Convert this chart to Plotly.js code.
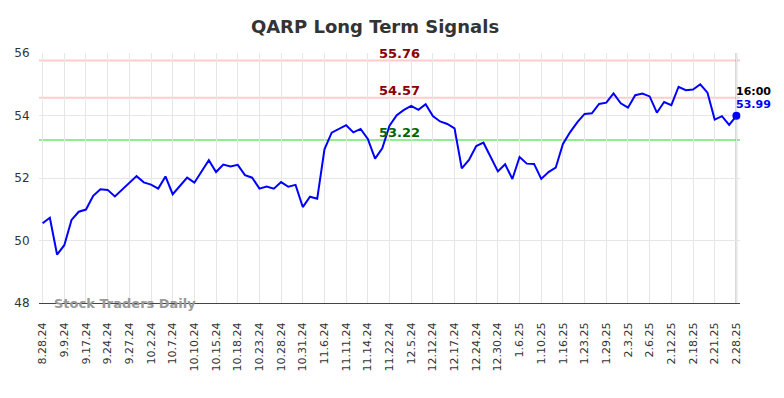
<!DOCTYPE html>
<html>
<head>
<meta charset="utf-8">
<script src="https://cdn.plot.ly/plotly-3.0.1.min.js"></script>
<style>html,body{margin:0;padding:0;background:#fff;}#chart{width:784px;height:398px;}</style>
</head>
<body>
<div id="chart"></div>
<script>
// Tick labels (one every 3 data points)
const tickLabels = ["8.28.24","9.9.24","9.17.24","9.24.24","9.27.24","10.2.24","10.7.24","10.10.24","10.15.24","10.18.24","10.23.24","10.28.24","10.31.24","11.6.24","11.11.24","11.14.24","11.22.24","12.5.24","12.12.24","12.17.24","12.24.24","12.30.24","1.6.25","1.10.25","1.16.25","1.23.25","1.29.25","2.3.25","2.6.25","2.12.25","2.18.25","2.21.25","2.28.25"];

// Closing prices
const prices = [
  50.55,50.73,49.55,49.85,50.66,50.92,50.99,51.43,51.64,51.62,
  51.41,51.62,51.82,52.06,51.86,51.79,51.66,52.05,51.48,51.74,
  52.01,51.85,52.22,52.57,52.19,52.43,52.37,52.42,52.09,52.01,
  51.66,51.73,51.66,51.87,51.72,51.78,51.07,51.40,51.34,52.92,
  53.45,53.57,53.69,53.46,53.57,53.25,52.62,52.95,53.67,54.01,
  54.18,54.31,54.18,54.36,53.98,53.81,53.73,53.59,52.31,52.58,
  53.02,53.13,52.68,52.21,52.44,51.97,52.67,52.46,52.45,51.97,
  52.19,52.33,53.09,53.47,53.79,54.05,54.07,54.37,54.41,54.71,
  54.39,54.25,54.65,54.70,54.61,54.09,54.43,54.33,54.92,54.81,
  54.83,55.00,54.73,53.87,53.98,53.70,53.99
];

// Signal levels
const resistanceLevels = [55.76, 54.57];
const supportLevels = [53.22];
const lastTime = "16:00";

const idx = prices.map((_, i) => i);
const tickVals = tickLabels.map((_, i) => i * 3);
const lastI = prices.length - 1;
const lastP = prices[lastI];

const traces = [
  {x: idx, y: prices, type: 'scatter', mode: 'lines',
   line: {color: '#0000ff', width: 2}, hoverinfo: 'skip'},
  {x: [lastI], y: [lastP], type: 'scatter', mode: 'markers', cliponaxis: false,
   marker: {color: '#0000ff', size: 8, line: {width: 0}}, hoverinfo: 'skip'}
];

const shapes = [];
resistanceLevels.forEach(v => shapes.push({type: 'line', xref: 'paper', x0: 0, x1: 1, yref: 'y', y0: v, y1: v, line: {color: '#ffcccc', width: 2}, layer: 'below'}));
supportLevels.forEach(v => shapes.push({type: 'line', xref: 'paper', x0: 0, x1: 1, yref: 'y', y0: v, y1: v, line: {color: '#90ee90', width: 2}, layer: 'below'}));
shapes.push({type: 'line', xref: 'x', x0: lastI, x1: lastI, yref: 'paper', y0: 0, y1: 1, line: {color: '#999999', width: 1.5}, layer: 'below'});

const annotations = [];
resistanceLevels.forEach(v => annotations.push({x: 49.4, y: v, xref: 'x', yref: 'y', text: v.toFixed(2), showarrow: false, yanchor: 'bottom', yshift: -2, font: {family: 'DejaVu Sans', size: 13, color: '#8b0000', weight: 'bold'}}));
supportLevels.forEach(v => annotations.push({x: 49.4, y: v, xref: 'x', yref: 'y', text: v.toFixed(2), showarrow: false, yanchor: 'bottom', yshift: -2, font: {family: 'DejaVu Sans', size: 13, color: '#006400', weight: 'bold'}}));
annotations.push({x: lastI, y: lastP, xref: 'x', yref: 'y', text: lastTime, showarrow: false, xanchor: 'left', yanchor: 'middle', yshift: 24, xshift: -2, font: {family: 'DejaVu Sans', size: 11, color: '#000000', weight: 'bold'}});
annotations.push({x: lastI, y: lastP, xref: 'x', yref: 'y', text: lastP.toFixed(2), showarrow: false, xanchor: 'left', yanchor: 'middle', yshift: 11, xshift: -2, font: {family: 'DejaVu Sans', size: 11, color: '#0000ff', weight: 'bold'}});

const plotL = 39, plotR = 740, plotT = 53, plotB = 303;
annotations.push({x: (54 - plotL) / (plotR - plotL), y: 0, xref: 'paper', yref: 'paper', text: 'Stock Traders Daily', showarrow: false, xanchor: 'left', yanchor: 'middle', xshift: -2, font: {family: 'DejaVu Sans', size: 13, color: '#999999', weight: 'bold'}});

const layout = {
  width: 784, height: 398,
  margin: {l: plotL, r: 784 - plotR, t: plotT, b: 398 - plotB},
  paper_bgcolor: '#ffffff', plot_bgcolor: '#ffffff',
  showlegend: false,
  title: {text: 'QARP Long Term Signals', x: 375 / 784, xanchor: 'center', y: 1 - 27 / 398, yanchor: 'middle',
          font: {family: 'DejaVu Sans', size: 18, color: '#333333', weight: 'bold'}},
  xaxis: {range: [-0.5, lastI + 0.5], tickvals: tickVals, ticktext: tickLabels, tickangle: -90,
          showgrid: true, gridcolor: '#e6e6e6', gridwidth: 1, zeroline: false,
          showline: true, linecolor: '#444444', linewidth: 1,
          ticks: 'outside', ticklen: 14, tickcolor: 'rgba(0,0,0,0)',
          tickfont: {family: 'DejaVu Sans', size: 11, color: '#333333'}},
  yaxis: {range: [48, 56], dtick: 2, tick0: 48, showgrid: true, gridcolor: '#e6e6e6', gridwidth: 1,
          zeroline: false, showline: false,
          ticks: 'outside', ticklen: 6, tickcolor: 'rgba(0,0,0,0)',
          tickfont: {family: 'DejaVu Sans', size: 12, color: '#333333'}},
  shapes: shapes,
  annotations: annotations
};

Plotly.newPlot('chart', traces, layout, {staticPlot: true, displayModeBar: false});
</script>
</body>
</html>
